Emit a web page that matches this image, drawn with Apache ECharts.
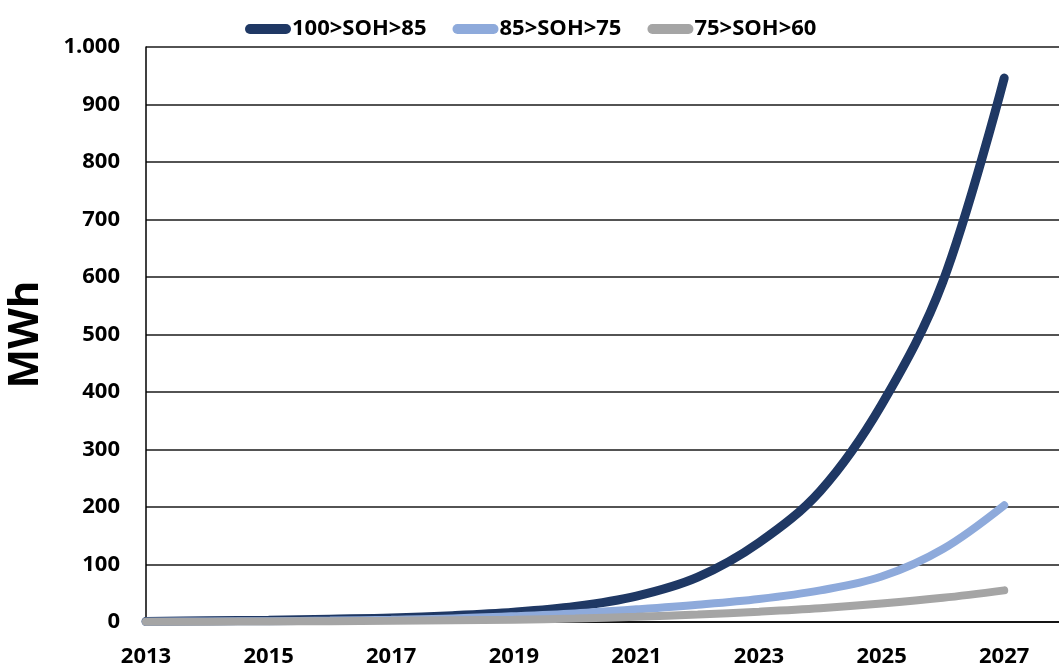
<!DOCTYPE html>
<html>
<head>
<meta charset="utf-8">
<title>MWh by SOH band</title>
<script src="https://cdn.jsdelivr.net/npm/echarts@6/dist/echarts.min.js"></script>
<style>
  html, body { margin: 0; padding: 0; background: #fff; }
  #chart { width: 1059px; height: 668px; }
</style>
</head>
<body>
<div id="chart"></div>
<script>
// Years on the horizontal axis
const years = [2013, 2014, 2015, 2016, 2017, 2018, 2019, 2020, 2021, 2022, 2023, 2024, 2025, 2026, 2027];

// Capacity (MWh) per state-of-health band
const soh100to85 = [1, 2, 3, 5, 7, 11, 17, 27, 45, 78, 138, 228, 378, 592, 946];
const soh85to75  = [0.5, 1, 1.5, 2.5, 4, 6, 10, 15, 22, 30, 40, 55, 79, 127, 203];
const soh75to60  = [0.3, 0.5, 1, 1.5, 2, 3, 4, 6, 9, 13, 18, 24, 32, 42, 55];

const seriesNames = ['100>SOH>85', '85>SOH>75', '75>SOH>60'];
const yTicks = [0, 100, 200, 300, 400, 500, 600, 700, 800, 900, 1000];

const FONT = '"Open Sans", Lato, "Liberation Sans", sans-serif';
const colors = ['#1f3864', '#8eaadb', '#a5a5a5'];

// x is the year offset from the first year, so the axis can start at 0
function toPoints(values) {
  return values.map((v, i) => [years[i] - years[0], v]);
}

const chart = echarts.init(document.getElementById('chart'), null, { renderer: 'canvas' });

const capsule = 'path://M5,0 L41,0 A5,5 0 0 1 41,10 L5,10 A5,5 0 0 1 5,0 Z';

chart.setOption({
  animation: false,
  backgroundColor: '#fff',
  color: colors,
  legend: {
    left: 240,
    top: 13,
    itemWidth: 46,
    itemHeight: 10,
    itemGap: 26,
    icon: capsule,
    textStyle: { fontFamily: FONT, fontWeight: 'bold', fontSize: 22, color: '#000', padding: [0, 0, 0, -4] },
    data: seriesNames
  },
  grid: { left: 146, right: 0, top: 47, bottom: 46, containLabel: false, outerBoundsMode: 'none' },
  xAxis: {
    type: 'value',
    min: 0,
    max: (1059 - 146) / 61.3,
    interval: 2,
    axisLine: { show: true, lineStyle: { color: '#000', width: 1.5 } },
    axisTick: { show: false },
    splitLine: { show: false },
    showMaxLabel: false,
    axisLabel: {
      margin: 24,
      fontFamily: FONT,
      fontWeight: 'bold',
      fontSize: 22,
      color: '#000',
      formatter: function (v) {
        const y = years[0] + v;
        return (Number.isInteger(v) && y <= years[years.length - 1]) ? String(y) : '';
      }
    }
  },
  yAxis: {
    type: 'value',
    min: yTicks[0],
    max: yTicks[yTicks.length - 1],
    interval: 100,
    name: 'MWh',
    nameLocation: 'middle',
    nameRotate: 90,
    nameGap: 99,
    nameTextStyle: { fontFamily: FONT, fontWeight: 'bold', fontSize: 42, color: '#000' },
    axisLine: { show: true, lineStyle: { color: '#000', width: 1.5 } },
    axisTick: { show: false },
    splitLine: { show: true, lineStyle: { color: '#1a1a1a', width: 1.5 } },
    axisLabel: {
      margin: 26,
      fontFamily: FONT,
      fontWeight: 'bold',
      fontSize: 22,
      color: '#000',
      formatter: function (v) {
        return v >= 1000 ? (v / 1000).toFixed(0) + '.' + String(v % 1000).padStart(3, '0') : String(v);
      }
    }
  },
  series: [
    { name: seriesNames[0], data: toPoints(soh100to85), lineStyle: { width: 9, cap: 'round' } },
    { name: seriesNames[1], data: toPoints(soh85to75),  lineStyle: { width: 8, cap: 'round' } },
    { name: seriesNames[2], data: toPoints(soh75to60),  lineStyle: { width: 8, cap: 'round' } }
  ].map(s => Object.assign({
    type: 'line',
    smooth: 0.35,
    showSymbol: false,
    symbol: 'none',
    clip: true
  }, s))
});
</script>
</body>
</html>
